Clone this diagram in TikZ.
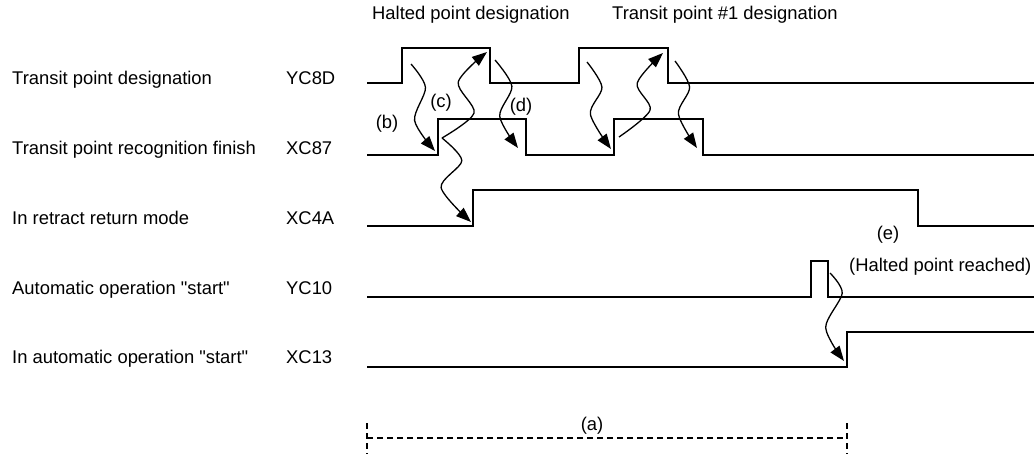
\documentclass[tikz,border=0pt]{standalone}
\usepackage{fontspec}
\setmainfont{Liberation Sans}
\usetikzlibrary{arrows.meta, calc}
\definecolor{ink}{HTML}{000000}

\tikzset{
  sig/.style={ink, line width=1.6pt},
  wave/.style={ink, line width=1.3pt, -{Triangle[length=15pt, width=11pt]}},
  txt/.style={font=\fontsize{18.4}{22}\selectfont, text=ink, inner sep=0pt},
  span/.style={ink, line width=1.3pt, dash pattern=on 6pt off 4pt},
}

\begin{document}
\begin{tikzpicture}[x=1pt, y=1pt]
  \useasboundingbox (0,0) rectangle (1034,-454);
  % signal names
  \node[txt, anchor=base west] (name8d) at (12,-85) {Transit point designation};
  \node[txt, anchor=base west] (name87) at (12,-155) {Transit point recognition finish};
  \node[txt, anchor=base west] (name4a) at (12,-225) {In retract return mode};
  \node[txt, anchor=base west] (name10) at (12,-295) {Automatic operation \textquotedbl start\textquotedbl};
  \node[txt, anchor=base west] (name13) at (12,-364) {In automatic operation \textquotedbl start\textquotedbl};
  % device numbers
  \node[txt, anchor=base west] (dev8d) at (286,-85) {YC8D};
  \node[txt, anchor=base west] (dev87) at (286,-155) {XC87};
  \node[txt, anchor=base west] (dev4a) at (286,-225) {XC4A};
  \node[txt, anchor=base west] (dev10) at (286,-295) {YC10};
  \node[txt, anchor=base west] (dev13) at (286,-364) {XC13};
  % headings
  \node[txt, anchor=base west] (halted) at (372,-20) {Halted point designation};
  \node[txt, anchor=base west] (transit) at (612,-20) {Transit point \#1 designation};

  % YC8D
  \draw[sig] (367,-83) -- (402,-83) -- (402,-48) -- (490,-48) -- (490,-83) -- (579,-83)
    -- (579,-48) -- (668,-48) -- (668,-83) -- (1034,-83);
  % XC87
  \draw[sig] (367,-155) -- (438,-155) -- (438,-119) -- (526,-119) -- (526,-155) -- (614,-155)
    -- (614,-119) -- (703,-119) -- (703,-155) -- (1034,-155);
  % XC4A
  \draw[sig] (367,-226) -- (473,-226) -- (473,-190) -- (918,-190) -- (918,-226) -- (1034,-226);
  % YC10
  \draw[sig] (367,-297) -- (811,-297) -- (811,-261) -- (828,-261) -- (828,-297) -- (1034,-297);
  % XC13
  \draw[sig] (367,-367) -- (847,-367) -- (847,-332) -- (1034,-332);

  % arrow ends
  \coordinate (b0) at (411,-64);  \coordinate (b1) at (435,-151);
  \coordinate (c0) at (442,-138); \coordinate (c1) at (487,-52);
  \coordinate (r0) at (442,-138); \coordinate (r1) at (471,-222);
  \coordinate (d0) at (495,-60);  \coordinate (d1) at (518,-148);
  \coordinate (p0) at (587,-62);  \coordinate (p1) at (611,-149);
  \coordinate (q0) at (619,-137); \coordinate (q1) at (663,-53);
  \coordinate (s0) at (675,-61);  \coordinate (s1) at (697,-148);
  \coordinate (h0) at (830,-273); \coordinate (h1) at (844,-361);

  % first pulse
  \draw[wave] plot[smooth] coordinates {(b0) ($(b0)!.27!(b1)+(8,0)$) ($(b0)!.65!(b1)+(-12,0)$) (b1)};
  \draw[wave] plot[smooth] coordinates {(c0) ($(c0)!.29!(c1)+(19,0)$) ($(c0)!.65!(c1)+(-13,0)$) (c1)};
  \draw[wave] plot[smooth] coordinates {(r0) ($(r0)!.27!(r1)+(12,0)$) ($(r0)!.59!(r1)+(-18,0)$) (r1)};
  \draw[wave] plot[smooth] coordinates {(d0) ($(d0)!.30!(d1)+(10,0)$) ($(d0)!.64!(d1)+(-10,0)$) (d1)};
  % second pulse
  \draw[wave] plot[smooth] coordinates {(p0) ($(p0)!.29!(p1)+(8,0)$) ($(p0)!.60!(p1)+(-11,0)$) (p1)};
  \draw[wave] plot[smooth] coordinates {(q0) ($(q0)!.32!(q1)+(17,0)$) ($(q0)!.64!(q1)+(-10,0)$) (q1)};
  \draw[wave] plot[smooth] coordinates {(s0) ($(s0)!.30!(s1)+(8,0)$) ($(s0)!.61!(s1)+(-10,0)$) (s1)};
  % halted point reached
  \draw[wave] plot[smooth] coordinates {(h0) ($(h0)!.23!(h1)+(9,0)$) ($(h0)!.62!(h1)+(-13,0)$) (h1)};

  % labels
  \node[txt, anchor=base] (lb) at (387,-129) {(b)};
  \node[txt, anchor=base] (lc) at (441,-108) {(c)};
  \node[txt, anchor=base] (ld) at (521,-112) {(d)};
  \node[txt, anchor=base] (le) at (888,-240) {(e)};
  \node[txt, anchor=base west] (reached) at (849,-272) {(Halted point reached)};

  % (a) span
  \coordinate (a0) at (367,-438); \coordinate (a1) at (847,-438);
  \draw[span] (367,-423) -- (367,-454);
  \draw[span] (847,-423) -- (847,-454);
  \draw[span] (a0) -- (a1);
  \node[txt, anchor=base] (la) at (592,-430) {(a)};
\end{tikzpicture}
\end{document}
